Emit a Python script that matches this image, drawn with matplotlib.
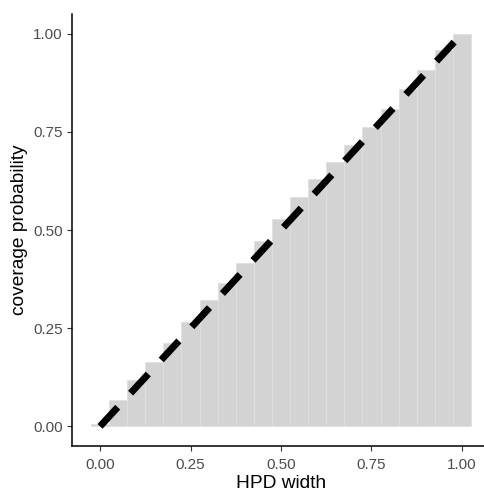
import matplotlib.pyplot as plt
import numpy as np

# HPD width bins and observed coverage
hpd_width = [0.00, 0.05, 0.10, 0.15, 0.20, 0.25, 0.30, 0.35, 0.40, 0.45, 0.50,
             0.55, 0.60, 0.65, 0.70, 0.75, 0.80, 0.85, 0.90, 0.95, 1.00]
coverage = [0.005, 0.067, 0.117, 0.164, 0.213, 0.265, 0.321, 0.366, 0.415, 0.472, 0.528,
            0.583, 0.630, 0.673, 0.717, 0.763, 0.808, 0.860, 0.908, 0.959, 1.000]
ref_line = [0.0, 1.0]

x_ticks = [0.00, 0.25, 0.50, 0.75, 1.00]
tick_labels = ['0.00', '0.25', '0.50', '0.75', '1.00']

plt.rcParams['font.family'] = ['Liberation Sans', 'DejaVu Sans']

fig = plt.figure(figsize=(4.84, 4.92), dpi=100)
ax = fig.add_axes([72 / 484, 46 / 492, 418 / 484, 432 / 492])

ax.bar(hpd_width, coverage, width=0.05, color='#D3D3D3', edgecolor='#E0E0E0',
       linewidth=0.6, zorder=1)
ax.plot(ref_line, ref_line, color='black', linewidth=5,
        linestyle=(0, (3.75, 2.75)), solid_capstyle='butt', dash_capstyle='butt', zorder=2)

ax.set_xlim(-0.0775, 1.0775)
ax.set_ylim(-0.05, 1.05)
ax.set_xticks(x_ticks)
ax.set_xticklabels(tick_labels)
ax.set_yticks(x_ticks)
ax.set_yticklabels(tick_labels)

for side in ['top', 'right']:
    ax.spines[side].set_visible(False)
for side in ['left', 'bottom']:
    ax.spines[side].set_linewidth(1.1)
    ax.spines[side].set_color('black')

ax.tick_params(axis='both', length=3.5, width=0.8, color='#333333',
               labelcolor='#4D4D4D', labelsize=11)
ax.tick_params(axis='y', pad=3)
ax.tick_params(axis='x', pad=5)

ax.set_xlabel('HPD width', fontsize=13.8, color='black', labelpad=2)
ax.set_ylabel('coverage probability', fontsize=13.8, color='black', labelpad=4)

fig.savefig('out.png', dpi=100)
